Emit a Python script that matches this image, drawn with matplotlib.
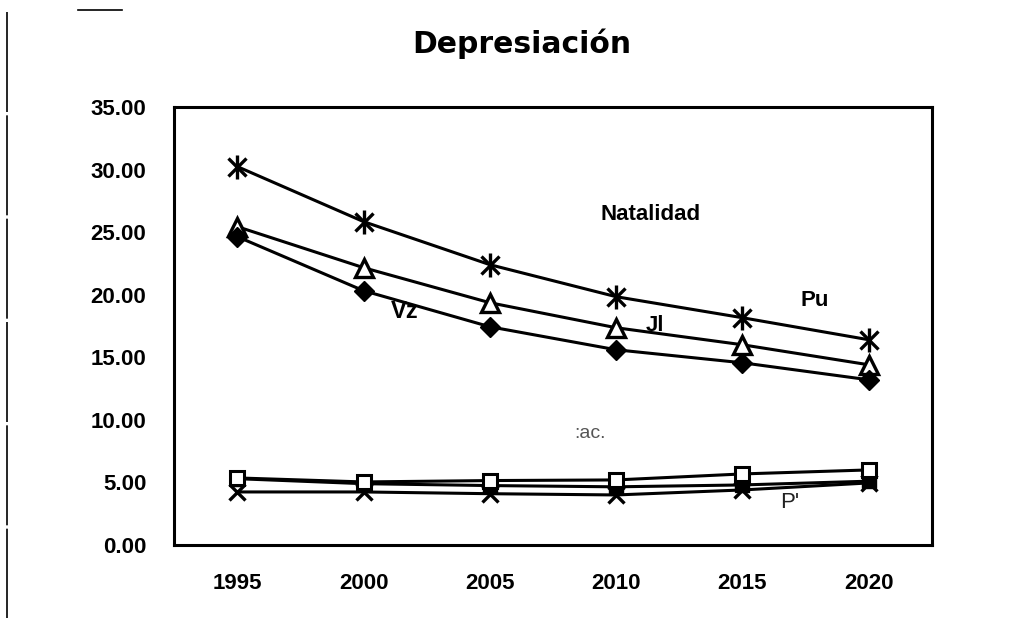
import numpy as np
import matplotlib.pyplot as plt
from matplotlib.lines import Line2D

plt.rcParams['font.family'] = ['Liberation Sans', 'DejaVu Sans']

years = ['1995', '2000', '2005', '2010', '2015', '2020']
y_ticks = [0, 5, 10, 15, 20, 25, 30, 35]

# natalidad
pu = [30.24, 25.84, 22.40, 19.84, 18.16, 16.40]
ji = [25.44, 22.16, 19.36, 17.36, 16.00, 14.40]
vz = [24.64, 20.32, 17.44, 15.60, 14.56, 13.20]

# mortalidad
mort_a = [5.36, 5.04, 5.15, 5.20, 5.68, 6.00]
mort_b = [5.30, 4.90, 4.75, 4.65, 4.80, 5.10]
mort_c = [4.24, 4.24, 4.10, 4.00, 4.40, 4.96]

fig = plt.figure(figsize=(10.28, 6.18), dpi=100)
ax = fig.add_axes([0.1693, 0.1181, 0.7373, 0.7088])
x = np.arange(len(years))

lw = 2.2
# asterisk markers: x + vertical bar
ax.plot(x, pu, color='black', lw=lw, marker='x', ms=13, mew=2.4)
ax.plot(x, pu, color='none', marker='|', ms=17, mew=2.4, mec='black')
ax.plot(x, ji, color='black', lw=lw, marker='^', ms=13, mew=2.4, mfc='white', mec='black')
ax.plot(x, vz, color='black', lw=lw, marker='D', ms=10, mfc='black', mec='black')

ax.plot(x, mort_c, color='black', lw=lw, marker='x', ms=12, mew=2.4)
ax.plot(x, mort_b, color='black', lw=lw, marker='s', ms=10, mfc='black', mec='black')
ax.plot(x, mort_a, color='black', lw=lw, marker='s', ms=10, mew=2.2, mfc='white', mec='black')

ax.set_xlim(-0.5, 5.5)
ax.set_ylim(0, 35)
ax.set_xticks(x)
ax.set_xticklabels(years)
ax.set_yticks(y_ticks)
ax.set_yticklabels(['%.2f' % v for v in y_ticks])
ax.tick_params(length=0, labelsize=16)
ax.tick_params(axis='y', pad=20)
ax.tick_params(axis='x', pad=20)
for lab in ax.get_xticklabels() + ax.get_yticklabels():
    lab.set_fontweight('bold')
for sp in ax.spines.values():
    sp.set_linewidth(2.2)

fig.text(522 / 1028, 1 - 44 / 618, 'Depresiación', ha='center', va='center',
         fontsize=21.5, fontweight='bold', family='DejaVu Sans')

def label(px, py, s, **kw):
    fig.text(px / 1028, 1 - py / 618, s, ha='center', va='center', **kw)

label(651, 214, 'Natalidad', fontsize=16, fontweight='bold')
label(815, 300, 'Pu', fontsize=16, fontweight='bold')
label(655, 326, 'Jl', fontsize=16, fontweight='bold')
label(405, 312, 'Vz', fontsize=17, fontweight='bold')
label(590, 433, ':ac.', fontsize=14, color='#555555')
label(790, 503, "P'", fontsize=16, color='#222222')

# scan border marks
fig.add_artist(Line2D([7 / 1028, 7 / 1028], [1 - 12 / 618, 0.0], color='black',
                      lw=1.2, ls=(0, (60, 2))))
fig.add_artist(Line2D([78 / 1028, 122 / 1028], [1 - 10 / 618, 1 - 10 / 618],
                      color='black', lw=1.2))

fig.savefig('out.png', dpi=100)
